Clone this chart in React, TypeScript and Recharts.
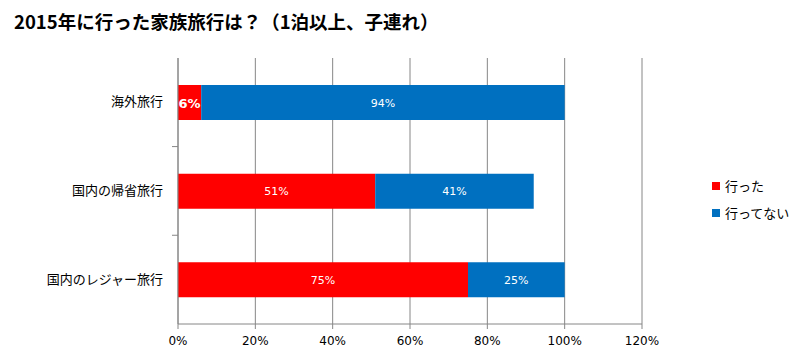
import React from 'react';
import { BarChart, Bar, XAxis, YAxis, CartesianGrid, LabelList } from 'recharts';

const categories = ['海外旅行', '国内の帰省旅行', '国内のレジャー旅行'];
const wentValues = [6, 51, 75];
const notWentValues = [94, 41, 25];
const xTicks = [0, 20, 40, 60, 80, 100, 120];
const seriesNames = ['行った', '行ってない'];
const COLORS = ['#ff0000', '#0070c0'];

const FONT = '"DejaVu Sans", "Noto Sans CJK JP", sans-serif';

const data = categories.map((name, i) => ({
  name,
  went: wentValues[i],
  notWent: notWentValues[i],
}));

const CategoryTick = (props: any) => {
  const { x, y, payload, index } = props;
  const band = 265.5 / categories.length;
  return (
    <g>
      <text x={x - 15} y={y} dy={4} textAnchor="end" fontSize={13} fill="#000" fontFamily={FONT}>
        {payload.value}
      </text>
      {index < categories.length - 1 && (
        <line x1={x - 6} x2={x} y1={y + band / 2} y2={y + band / 2} stroke="#868686" />
      )}
    </g>
  );
};

const WentLabel = (props: any) => {
  const { x, y, width, height, value } = props;
  const small = value < 10;
  return (
    <text
      x={x + width / 2}
      y={y + height / 2}
      dy={small ? 5 : 4}
      textAnchor="middle"
      fill="#fff"
      fontSize={small ? 13 : 11}
      fontWeight={small ? 'bold' : 'normal'}
      fontFamily={FONT}
    >
      {value}%
    </text>
  );
};

const NotWentLabel = (props: any) => {
  const { x, y, width, height, value } = props;
  return (
    <text x={x + width / 2} y={y + height / 2} dy={4} textAnchor="middle" fill="#fff" fontSize={11} fontFamily={FONT}>
      {value}%
    </text>
  );
};

export default function App() {
  return (
    <div style={{ position: 'absolute', left: 0, top: 0, width: 798, height: 357, background: '#fff' }}>
      <div
        style={{
          position: 'absolute',
          left: 14,
          top: 8,
          fontFamily: '"Noto Sans CJK JP", sans-serif',
          fontWeight: 'bold',
          fontSize: 18.5,
          color: '#000',
          whiteSpace: 'nowrap',
        }}
      >
        2015年に行った家族旅行は？（1泊以上、子連れ）
      </div>
      <div style={{ position: 'absolute', left: 712, top: 172, fontFamily: FONT, fontSize: 13, color: '#000' }}>
        {seriesNames.map((n, i) => (
          <div key={n} style={{ display: 'flex', alignItems: 'center', height: 27 }}>
            <span style={{ width: 8, height: 8, background: COLORS[i], marginRight: 5, display: 'inline-block' }} />
            <span>{n}</span>
          </div>
        ))}
      </div>
      <BarChart
        width={798}
        height={357}
        data={data}
        layout="vertical"
        margin={{ top: 58, right: 156, bottom: 3, left: 0 }}
        barSize={35}
      >
        <CartesianGrid horizontal={false} stroke="#868686" />
        <XAxis
          type="number"
          domain={[0, 120]}
          ticks={xTicks}
          tickFormatter={(v: number) => `${v}%`}
          axisLine={{ stroke: '#868686' }}
          tickLine={{ stroke: '#868686' }}
          tickSize={5}
          tick={{ fontSize: 12, fill: '#000', fontFamily: FONT }}
          tickMargin={7}
          height={30}
          interval={0}
        />
        <YAxis
          type="category"
          dataKey="name"
          width={178}
          axisLine={{ stroke: '#868686' }}
          tickLine={false}
          tickSize={0}
          tickMargin={0}
          tick={<CategoryTick />}
        />
        <Bar dataKey="went" stackId="a" fill={COLORS[0]} name={seriesNames[0]} isAnimationActive={false}>
          <LabelList dataKey="went" content={<WentLabel />} />
        </Bar>
        <Bar dataKey="notWent" stackId="a" fill={COLORS[1]} name={seriesNames[1]} isAnimationActive={false}>
          <LabelList dataKey="notWent" content={<NotWentLabel />} />
        </Bar>
      </BarChart>
    </div>
  );
}
